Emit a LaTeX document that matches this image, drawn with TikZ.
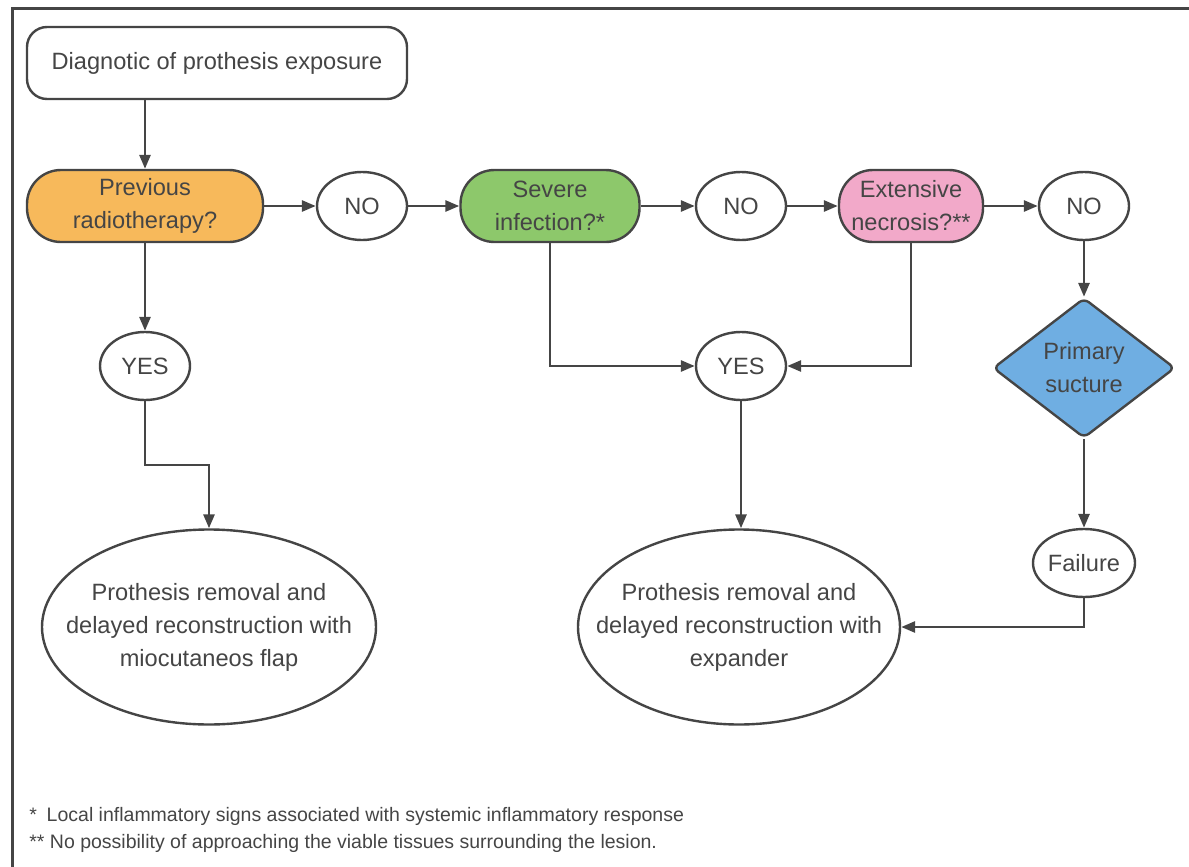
\documentclass[tikz,border=0pt]{standalone}
\usepackage{fontspec}
\setmainfont{Liberation Sans}
\usetikzlibrary{shapes.geometric}
\usetikzlibrary{arrows.meta}
\usepackage{xcolor}

\definecolor{lineclr}{HTML}{454545}
\definecolor{txtclr}{HTML}{454545}
\definecolor{radioclr}{HTML}{F7B95B}
\definecolor{infectclr}{HTML}{8DC86B}
\definecolor{necroclr}{HTML}{F2A9C9}
\definecolor{sutureclr}{HTML}{6FAEE2}

\begin{document}
\begin{tikzpicture}[x=0.5pt,y=-0.5pt,
  every node/.style={text=txtclr,align=center,font=\fontsize{11.8}{16.5}\selectfont},
  startbox/.style={draw=lineclr,line width=1.2pt,rectangle,rounded corners=10pt,
    minimum width=190pt,minimum height=36pt,fill=white},
  question/.style={draw=lineclr,line width=1.2pt,rectangle,rounded corners=17pt,
    minimum height=36pt,inner sep=2pt},
  answer/.style={draw=lineclr,line width=1.2pt,ellipse,minimum width=45pt,
    minimum height=34pt,inner sep=0pt,fill=white},
  outcome/.style={draw=lineclr,line width=1.2pt,ellipse,minimum height=97.5pt,
    inner xsep=-15pt,inner ysep=0pt,fill=white},
  check/.style={draw=lineclr,line width=1.2pt,diamond,rounded corners=3pt,
    minimum width=91pt,minimum height=70pt,inner sep=0pt},
  flow/.style={draw=lineclr,line width=1.4pt,-{Triangle[length=7pt,width=5.5pt]}},
  note/.style={font=\fontsize{9.75}{13.5}\selectfont,anchor=west,inner sep=0pt}]

\useasboundingbox (0,0) rectangle (1189,867);

% frame
\draw[lineclr,line width=1.5pt] (12,867) -- (12,8) -- (1189,8);

% first row
\node[startbox] (diag) at (217,63) {Diagnotic of prothesis exposure};
\node[question,fill=radioclr,minimum width=118pt] (prev) at (145,206) {Previous\\radiotherapy?};
\node[answer] (no1) at (362,206) {NO};
\node[question,fill=infectclr,minimum width=89.5pt] (severe) at (550,206) {Severe\\infection?*};
\node[answer] (no2) at (741,206) {NO};
\node[question,fill=necroclr,minimum width=72pt] (ext) at (911,206) {Extensive\\necrosis?**};
\node[answer] (no3) at (1084,206) {NO};

% second row
\node[answer] (yes1) at (145,366) {YES};
\node[answer] (yes2) at (741,366) {YES};
\node[check,fill=sutureclr] (suture) at (1084,368) {Primary\\sucture};

% outcomes
\node[answer,minimum width=46pt] (fail) at (1084,563) {Failure};
\node[outcome,minimum width=167pt] (remA) at (209,627) {Prothesis removal and\\delayed reconstruction with\\miocutaneos flap};
\node[outcome,minimum width=161pt] (remB) at (739,627) {Prothesis removal and\\delayed reconstruction with\\expander};

\coordinate (turnA) at (145,465);

% connectors
\draw[flow] (prev |- diag.south) -- (prev.north);
\draw[flow] (prev) -- (no1);
\draw[flow] (no1) -- (severe);
\draw[flow] (severe) -- (no2);
\draw[flow] (no2) -- (ext);
\draw[flow] (ext) -- (no3);
\draw[flow] (no3) -- (suture);
\draw[flow] (suture) -- (fail);
\draw[flow] (prev) -- (yes1);
\draw[flow] (yes1) -- (turnA) -| (remA);
\draw[flow] (severe) |- (yes2);
\draw[flow] (ext) |- (yes2);
\draw[flow] (yes2) -- (yes2 |- remB.north);
\draw[flow] (fail) |- (remB);

% footnotes
\node[note] (noteA) at (29,816) {*\enspace Local inflammatory signs associated with systemic inflammatory response};
\node[note] (noteB) at (29,843) {** No possibility of approaching the viable tissues surrounding the lesion.};

\end{tikzpicture}
\end{document}
